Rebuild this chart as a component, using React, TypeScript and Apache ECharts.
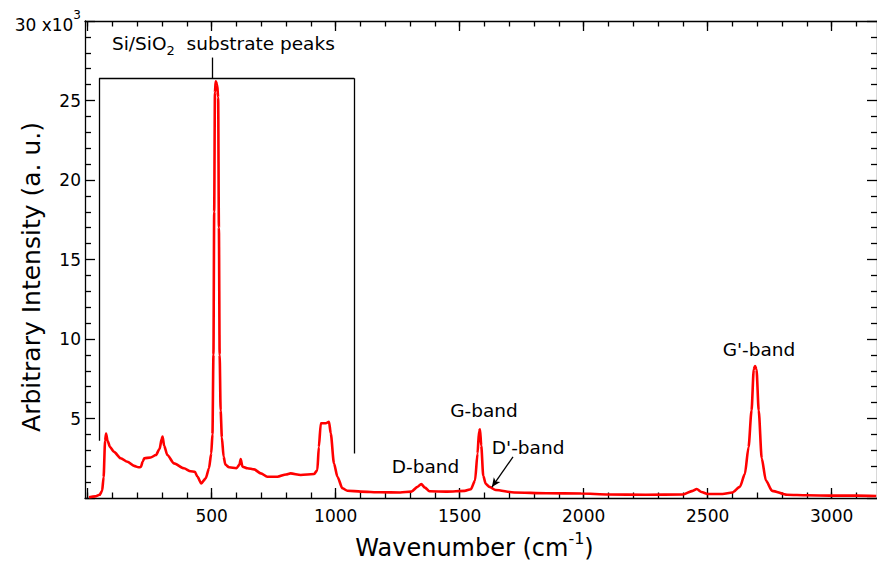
import React, { useEffect, useRef } from "react";
import * as echarts from "echarts";

// Raman spectrum (wavenumber in cm^-1, intensity in thousands of counts)
const wavenumber = [
  5, 30, 48, 58, 64, 70, 74, 80, 90, 106, 133, 160, 187, 205, 214, 222, 228, 254, 275, 290,
  298, 302, 308, 321, 348, 388, 415, 432, 442, 458, 476, 489, 498, 503, 507, 510, 513, 516, 522, 526,
  529, 532, 536, 541, 548, 555, 570, 600, 612, 617, 624, 644, 671, 698, 724, 765, 800, 818, 859, 913,
  926, 932, 940, 960, 973, 980, 993, 1007, 1027, 1047, 1101, 1181, 1260, 1305, 1330, 1345, 1360, 1378, 1450, 1520,
  1545, 1562, 1572, 1578, 1582, 1587, 1595, 1605, 1620, 1645, 1720, 1850, 1990, 2100, 2250, 2400, 2440, 2456, 2475, 2500,
  2560, 2600, 2630, 2650, 2665, 2677, 2686, 2691, 2697, 2706, 2718, 2735, 2760, 2820, 2900, 3000, 3100, 3180,
];
const intensity = [
  0.05, 0.1, 0.2, 0.45, 1.3, 3.6, 4.05, 3.6, 3.2, 2.9, 2.5, 2.28, 2.02, 1.93, 1.95, 2.3, 2.5, 2.55, 2.7, 3.1,
  3.7, 3.86, 3.3, 2.7, 2.18, 1.87, 1.68, 1.65, 1.35, 0.92, 1.24, 1.87, 2.8, 4.0, 9, 18, 25.5, 26.2, 26.0, 25.2,
  17, 9, 5.5, 3.8, 2.6, 2.1, 1.93, 1.87, 2.1, 2.45, 1.97, 1.87, 1.8, 1.55, 1.34, 1.34, 1.48, 1.55, 1.45, 1.51,
  1.76, 3.2, 4.7, 4.7, 4.8, 4.07, 2.18, 1.34, 0.61, 0.46, 0.4, 0.36, 0.35, 0.4, 0.7, 0.88, 0.65, 0.42, 0.4, 0.45,
  0.55, 1.1, 2.8, 4.2, 4.32, 3.3, 1.4, 0.9, 0.7, 0.5, 0.35, 0.3, 0.28, 0.22, 0.2, 0.22, 0.45, 0.57, 0.38, 0.25,
  0.25, 0.35, 0.7, 1.5, 3.2, 5.5, 8.1, 8.3, 8.1, 5.5, 2.5, 1.1, 0.45, 0.2, 0.17, 0.15, 0.15, 0.13,
];

const xMajorTicks = [0, 500, 1000, 1500, 2000, 2500, 3000];
const xTickLabels = [500, 1000, 1500, 2000, 2500, 3000];
const xMinorTicks = [
  0, 100, 200, 300, 400, 500, 600, 700, 800, 900, 1000, 1100, 1200, 1300, 1400, 1500,
  1600, 1700, 1800, 1900, 2000, 2100, 2200, 2300, 2400, 2500, 2600, 2700, 2800, 2900, 3000, 3100,
];

// Annotation texts and their anchors in data space
const bandNames = ["D-band", "G-band", "D'-band", "G'-band"];
const bandAnchors = [
  [1362, 1.95],
  [1598, 5.53],
  [1776, 3.2],
  [2707, 9.37],
];
const substrateLabel = "{a|Si/SiO}{b|2}{a|  substrate peaks}";
const substrateAnchor = [547, 28.47];
// Bracket over the substrate peaks
const bracketLeft = [46, 3.6];
const bracketRight = [1075, 2.8];
const bracketTop = 26.4;
const bracketStem = [501, 27.7];
// D'-band arrow (from, to)
const arrowFrom = [1715, 2.58];
const arrowTo = [1630, 0.69];

const FONT = "'DejaVu Sans', sans-serif";

export default function App() {
  const ref = useRef<HTMLDivElement>(null);
  useEffect(() => {
    const chart = echarts.init(ref.current!, null, { renderer: "svg" });
    const data = wavenumber.map((w, i) => [w, intensity[i]]);
    const xMin = -11;
    const xMax = 3183;
    const axisLineStyle = { color: "#000", width: 1.3 };

    const mkX = (position: string, ticks: number[], len: number, labels: boolean, line: boolean) => ({
      type: "value",
      min: xMin,
      max: xMax,
      position,
      axisLine: { show: line, onZero: false, lineStyle: axisLineStyle },
      axisTick: { show: true, inside: true, length: len, customValues: ticks, lineStyle: { color: "#000", width: 1.3 } },
      axisLabel: labels
        ? {
            show: true,
            customValues: xTickLabels,
            color: "#000",
            fontSize: 17,
            fontFamily: FONT,
            margin: 9,
            formatter: (v: number) => String(v),
          }
        : { show: false },
      splitLine: { show: false },
    });

    const mkY = (position: string, labels: boolean) => ({
      type: "value",
      min: 0,
      max: 30,
      interval: 5,
      position,
      axisLine: { show: true, onZero: false, lineStyle: axisLineStyle },
      axisTick: { show: true, inside: true, length: 10, lineStyle: { color: "#000", width: 1.3 } },
      minorTick: { show: true, splitNumber: 5, length: 6, lineStyle: { color: "#000", width: 1.3 } },
      axisLabel: labels
        ? {
            show: true,
            color: "#000",
            fontSize: 17,
            fontFamily: FONT,
            margin: 4,
            formatter: (v: number) => (v === 0 ? "" : v === 30 ? "{a|30 x10}{b|3}" : String(v)),
            rich: {
              a: { fontSize: 17, fontFamily: FONT, color: "#000", verticalAlign: "bottom", lineHeight: 24 },
              b: { fontSize: 12, fontFamily: FONT, color: "#000", verticalAlign: "top" },
            },
          }
        : { show: false },
      splitLine: { show: false },
      minorSplitLine: { show: false },
    });

    const marks: any[] = bandNames.map((t, i) => ({
      coord: bandAnchors[i],
      value: t,
      label: { formatter: t },
    }));
    marks.push({
      coord: substrateAnchor,
      value: "Si/SiO2 substrate peaks",
      label: {
        formatter: substrateLabel,
        rich: {
          a: { fontSize: 18.5, fontFamily: FONT, color: "#000", verticalAlign: "top" },
          b: { fontSize: 13, fontFamily: FONT, color: "#000", verticalAlign: "top", padding: [10, 0, 0, 0] },
        },
      },
    });

    const option: any = {
      animation: false,
      backgroundColor: "#fff",
      grid: { left: 85, right: 0, top: 21, bottom: 68, containLabel: false },
      xAxis: [
        mkX("bottom", xMajorTicks, 10, true, true),
        mkX("bottom", xMinorTicks, 5.5, false, false),
        mkX("top", xMajorTicks, 10, false, true),
        mkX("top", xMinorTicks, 5.5, false, false),
      ],
      yAxis: [mkY("left", true), mkY("right", false)],
      graphic: [
        {
          type: "text",
          x: 474.5,
          y: 545,
          style: {
            text: "{a|Wavenumber (cm}{b|-1}{a|)}",
            align: "center",
            verticalAlign: "middle",
            fill: "#000",
            rich: {
              a: { fontSize: 24, fontFamily: FONT, fill: "#000", verticalAlign: "bottom", lineHeight: 30 },
              b: { fontSize: 16, fontFamily: FONT, fill: "#000", verticalAlign: "top" },
            },
          },
        },
        {
          type: "text",
          x: 31,
          y: 277,
          rotation: Math.PI / 2,
          style: {
            text: "Arbitrary Intensity (a. u.)",
            align: "center",
            verticalAlign: "middle",
            font: `25px ${FONT}`,
            fill: "#000",
          },
        },
      ],
      series: [
        {
          type: "line",
          xAxisIndex: 0,
          yAxisIndex: 0,
          data,
          showSymbol: false,
          symbol: "none",
          smooth: 0.25,
          smoothMonotone: "x",
          lineStyle: { color: "#ff0000", width: 2.6 },
          silent: true,
          markLine: {
            silent: true,
            symbol: ["none", "none"],
            label: { show: false },
            lineStyle: { color: "#000", width: 1.3, type: "solid" },
            emphasis: { disabled: true },
            data: [
              [{ coord: bracketLeft }, { coord: [bracketLeft[0], bracketTop] }],
              [{ coord: [bracketLeft[0], bracketTop] }, { coord: [bracketRight[0], bracketTop] }],
              [{ coord: [bracketRight[0], bracketTop] }, { coord: bracketRight }],
              [{ coord: [bracketStem[0], bracketTop] }, { coord: bracketStem }],
              [
                { coord: arrowFrom, symbol: "none" },
                { coord: arrowTo, symbol: "arrow", symbolSize: [6, 9] },
              ],
            ],
          },
          markPoint: {
            silent: true,
            symbol: "circle",
            symbolSize: 0,
            itemStyle: { color: "transparent" },
            label: { show: true, position: "inside", color: "#000", fontSize: 18.5, fontFamily: FONT },
            data: marks,
          },
        },
      ],
    };
    chart.setOption(option);
    return () => chart.dispose();
  }, []);
  return (
    <div
      ref={ref}
      style={{ position: "fixed", left: 0, top: 0, width: 877, height: 566, background: "#fff" }}
    />
  );
}
